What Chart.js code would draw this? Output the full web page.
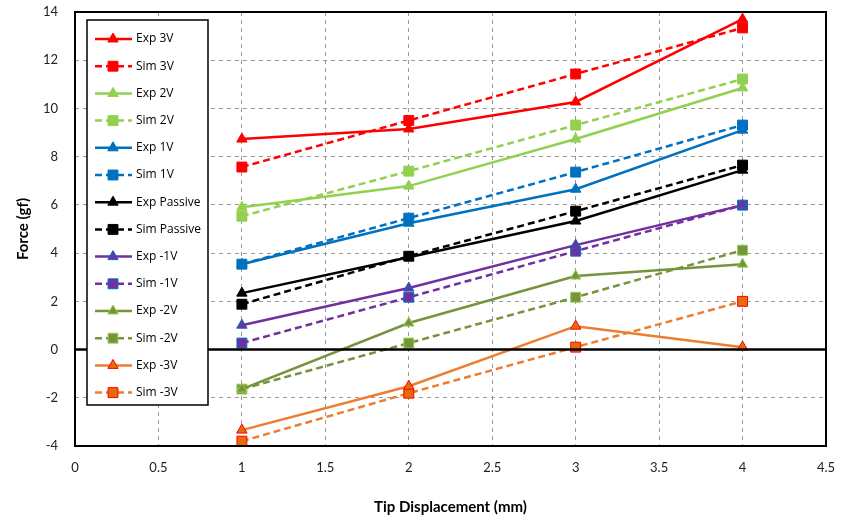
<!DOCTYPE html>
<html>
<head>
<meta charset="utf-8">
<script src="https://cdn.jsdelivr.net/npm/chart.js@4.4.1/dist/chart.umd.min.js"></script>
<style>
  html, body { margin: 0; padding: 0; background: #fff; }
  #wrap { width: 844px; height: 520px; }
</style>
</head>
<body>
<div id="wrap"><canvas id="myChart" width="844" height="520"></canvas></div>
<script>
// tip displacement (mm)
var displacement = [1, 2, 3, 4];

// force (gf)
var exp3V      = [8.73, 9.15, 10.27, 13.70];
var sim3V      = [7.57, 9.50, 11.43, 13.34];
var exp2V      = [5.90, 6.78, 8.73, 10.85];
var sim2V      = [5.53, 7.40, 9.31, 11.22];
var exp1V      = [3.54, 5.24, 6.65, 9.10];
var sim1V      = [3.54, 5.45, 7.36, 9.31];
var expPassive = [2.34, 3.83, 5.33, 7.44];
var simPassive = [1.88, 3.87, 5.74, 7.65];
var expMinus1V = [1.01, 2.55, 4.33, 5.99];
var simMinus1V = [0.27, 2.17, 4.08, 5.99];
var expMinus2V = [-1.64, 1.10, 3.05, 3.54];
var simMinus2V = [-1.64, 0.27, 2.17, 4.12];
var expMinus3V = [-3.34, -1.52, 0.97, 0.10];
var simMinus3V = [-3.80, -1.81, 0.10, 2.00];

var seriesLabels = ['Exp 3V', 'Sim 3V', 'Exp 2V', 'Sim 2V', 'Exp 1V', 'Sim 1V',
  'Exp Passive', 'Sim Passive', 'Exp -1V', 'Sim -1V', 'Exp -2V', 'Sim -2V', 'Exp -3V', 'Sim -3V'];
var seriesValues = [exp3V, sim3V, exp2V, sim2V, exp1V, sim1V, expPassive, simPassive,
  expMinus1V, simMinus1V, expMinus2V, simMinus2V, expMinus3V, simMinus3V];

// line colour, marker fill, marker border for each voltage pair
var styles = [
  ['#ff0000', '#ff0000', '#ff0000'],
  ['#92d050', '#92d050', '#92d050'],
  ['#0070c0', '#0070c0', '#0070c0'],
  ['#000000', '#000000', '#000000'],
  ['#7030a0', '#7030a0', '#0070c0'],
  ['#77933c', '#77933c', '#92d050'],
  ['#ed7d31', '#e46c0a', '#ff0000']
];

var datasets = seriesValues.map(function (vals, i) {
  var st = styles[Math.floor(i / 2)];
  var isSim = i % 2 === 1;
  return {
    label: seriesLabels[i],
    data: displacement.map(function (x, j) { return { x: x, y: vals[j] }; }),
    borderColor: st[0],
    backgroundColor: st[1],
    pointBackgroundColor: st[1],
    pointBorderColor: st[2],
    pointBorderWidth: 1,
    pointStyle: isSim ? 'rect' : 'triangle',
    pointRadius: isSim ? 7 : 6,
    borderWidth: 2.5,
    borderDash: isSim ? [7, 4] : [],
    showLine: true,
    tension: 0
  };
});

var frameAndLegend = {
  id: 'frameAndLegend',
  afterDraw: function (chart) {
    var ctx = chart.ctx, a = chart.chartArea;
    var y0 = chart.scales.y.getPixelForValue(0);
    ctx.save();
    ctx.strokeStyle = '#000';
    ctx.lineWidth = 2.5;
    ctx.beginPath();
    ctx.moveTo(a.left, y0);
    ctx.lineTo(a.right, y0);
    ctx.stroke();
    ctx.lineWidth = 2;
    ctx.strokeRect(a.left, a.top, a.right - a.left, a.bottom - a.top);

    // legend box
    var bx = a.left + 12, by = a.top + 8, bw = 121, bh = 385;
    ctx.fillStyle = '#fff';
    ctx.fillRect(bx, by, bw, bh);
    ctx.lineWidth = 1.5;
    ctx.strokeRect(bx, by, bw, bh);
    ctx.font = '12px "Open Sans", Lato, sans-serif';
    ctx.textBaseline = 'middle';
    chart.data.datasets.forEach(function (ds, i) {
      var cy = by + 19 + i * 27.2;
      ctx.strokeStyle = ds.borderColor;
      ctx.lineWidth = 2.5;
      ctx.setLineDash(ds.borderDash);
      ctx.beginPath();
      ctx.moveTo(bx + 8, cy);
      ctx.lineTo(bx + 45, cy);
      ctx.stroke();
      ctx.setLineDash([]);
      ctx.fillStyle = ds.pointBackgroundColor;
      ctx.strokeStyle = ds.pointBorderColor;
      ctx.lineWidth = 1;
      Chart.helpers.drawPoint(ctx, {
        pointStyle: ds.pointStyle, radius: ds.pointRadius, rotation: 0, borderWidth: 1
      }, bx + 26, cy);
      ctx.fillStyle = '#000';
      ctx.fillText(ds.label, bx + 49, cy);
    });
    ctx.restore();
  }
};

var ctx = document.getElementById('myChart').getContext('2d');
var myChart = new Chart(ctx, {
  type: 'scatter',
  data: { datasets: datasets },
  options: {
    responsive: false,
    animation: false,
    layout: { padding: { left: 0, right: 18, top: 12, bottom: 0 } },
    plugins: {
      legend: { display: false },
      tooltip: { enabled: false }
    },
    scales: {
      x: {
        type: 'linear',
        min: 0,
        max: 4.5,
        afterFit: function (s) { s.height = 74; s.paddingRight = 0; s.paddingLeft = 0; },
        ticks: {
          stepSize: 0.5,
          padding: 14,
          color: '#222',
          callback: function (v) { return String(v); },
          font: { family: 'Lato, "Open Sans", sans-serif', size: 13 }
        },
        grid: { color: '#999', lineWidth: 1, drawTicks: false },
        border: { display: false, dash: [4, 4] },
        title: {
          display: true,
          text: 'Tip Displacement (mm)',
          color: '#000',
          padding: { top: 12 },
          font: { family: 'Lato, "Open Sans", sans-serif', size: 15, weight: 'bold' }
        }
      },
      y: {
        min: -4,
        max: 14,
        afterFit: function (s) { s.width = 75; s.paddingTop = 0; s.paddingBottom = 0; },
        ticks: {
          stepSize: 2,
          padding: 17,
          color: '#222',
          callback: function (v) { return String(v); },
          font: { family: 'Lato, "Open Sans", sans-serif', size: 13 }
        },
        grid: {
          color: function (c) { return c.tick && c.tick.value === 0 ? 'rgba(0,0,0,0)' : '#999'; },
          lineWidth: 1,
          drawTicks: false
        },
        border: { display: false, dash: [4, 4] },
        title: {
          display: true,
          text: 'Force (gf)',
          color: '#000',
          padding: { top: 14, bottom: 0 },
          font: { family: 'Lato, "Open Sans", sans-serif', size: 15, weight: 'bold' }
        }
      }
    }
  },
  plugins: [frameAndLegend]
});
</script>
</body>
</html>
